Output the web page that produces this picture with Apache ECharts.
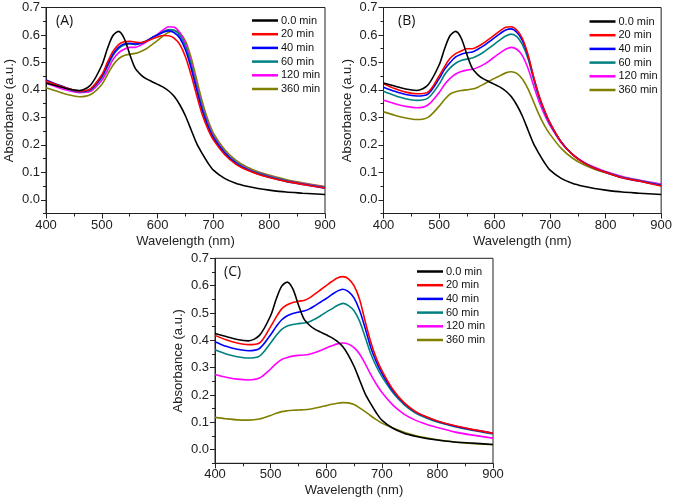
<!DOCTYPE html>
<html>
<head>
<meta charset="utf-8">
<script src="https://cdn.jsdelivr.net/npm/echarts@6/dist/echarts.min.js"></script>
<style>html,body{margin:0;padding:0;background:#fff}#c{width:675px;height:501px}</style>
</head>
<body>
<div id="c"></div>
<script>
// ---------- data ----------
var wavelength = [400,420,440,460,480,500,510,520,530,540,550,560,570,580,590,600,610,620,630,640,650,660,670,680,690,700,720,740,760,780,800,830,860,900];
var seriesNames = ['0.0 min','20 min','40 min','60 min','120 min','360 min'];
var yTickLabels = [0,0.1,0.2,0.3,0.4,0.5,0.6,0.7];
var xTickLabels = [400,500,600,700,800,900];
var panelLabels = ['(A)','(B)','(C)'];

var black0 = [0.425,0.414,0.403,0.398,0.418,0.49,0.55,0.598,0.613,0.588,0.53,0.478,0.455,0.44,0.43,0.42,0.41,0.396,0.376,0.345,0.305,0.255,0.205,0.168,0.135,0.108,0.078,0.06,0.049,0.041,0.035,0.028,0.024,0.019];

var a20  = [0.432,0.418,0.405,0.396,0.405,0.455,0.5,0.54,0.565,0.575,0.577,0.574,0.572,0.577,0.585,0.593,0.598,0.597,0.588,0.565,0.52,0.455,0.38,0.31,0.258,0.218,0.165,0.13,0.108,0.093,0.081,0.067,0.056,0.043];
var a40  = [0.436,0.42,0.405,0.395,0.403,0.45,0.49,0.53,0.555,0.567,0.57,0.567,0.57,0.578,0.59,0.6,0.61,0.615,0.608,0.588,0.545,0.48,0.4,0.325,0.268,0.225,0.17,0.133,0.11,0.094,0.082,0.067,0.056,0.042];
var a60  = [0.432,0.418,0.403,0.393,0.4,0.445,0.485,0.525,0.55,0.563,0.567,0.565,0.57,0.578,0.59,0.6,0.612,0.62,0.617,0.598,0.558,0.492,0.41,0.335,0.275,0.23,0.174,0.137,0.113,0.097,0.085,0.07,0.058,0.045];
var a120 = [0.425,0.41,0.398,0.39,0.395,0.435,0.47,0.51,0.535,0.548,0.555,0.555,0.563,0.575,0.59,0.603,0.618,0.63,0.628,0.608,0.568,0.5,0.418,0.34,0.28,0.233,0.176,0.138,0.114,0.098,0.086,0.07,0.059,0.046];
var a360 = [0.408,0.395,0.382,0.375,0.383,0.42,0.455,0.49,0.513,0.525,0.53,0.533,0.54,0.55,0.565,0.58,0.597,0.61,0.616,0.607,0.578,0.518,0.438,0.358,0.292,0.243,0.183,0.144,0.119,0.102,0.09,0.074,0.062,0.048];

var b20  = [0.422,0.405,0.392,0.386,0.392,0.45,0.485,0.515,0.532,0.542,0.55,0.55,0.558,0.57,0.585,0.6,0.615,0.628,0.63,0.618,0.588,0.53,0.45,0.38,0.325,0.28,0.21,0.165,0.135,0.115,0.1,0.08,0.068,0.05];
var b40  = [0.41,0.395,0.383,0.378,0.385,0.44,0.475,0.5,0.52,0.53,0.535,0.538,0.548,0.56,0.575,0.59,0.605,0.618,0.622,0.61,0.58,0.525,0.448,0.378,0.323,0.278,0.21,0.165,0.135,0.115,0.1,0.08,0.068,0.052];
var b60  = [0.395,0.38,0.368,0.362,0.37,0.42,0.455,0.48,0.497,0.507,0.512,0.516,0.525,0.537,0.552,0.567,0.582,0.596,0.603,0.594,0.566,0.515,0.442,0.373,0.32,0.276,0.21,0.165,0.136,0.116,0.101,0.082,0.07,0.054];
var b120 = [0.362,0.35,0.34,0.335,0.345,0.39,0.42,0.442,0.458,0.467,0.472,0.475,0.482,0.492,0.505,0.52,0.535,0.548,0.555,0.548,0.525,0.48,0.418,0.358,0.31,0.27,0.208,0.166,0.138,0.118,0.103,0.085,0.072,0.057];
var b360 = [0.32,0.308,0.298,0.292,0.3,0.34,0.365,0.385,0.393,0.398,0.4,0.403,0.41,0.42,0.432,0.442,0.452,0.462,0.466,0.46,0.44,0.405,0.358,0.31,0.27,0.238,0.187,0.152,0.128,0.111,0.098,0.082,0.07,0.055];

var c20  = [0.418,0.402,0.39,0.384,0.39,0.45,0.485,0.515,0.53,0.538,0.543,0.546,0.555,0.57,0.585,0.6,0.615,0.628,0.633,0.625,0.6,0.55,0.47,0.395,0.335,0.29,0.22,0.172,0.14,0.12,0.105,0.088,0.075,0.06];
var c40  = [0.395,0.378,0.367,0.362,0.37,0.42,0.45,0.475,0.49,0.498,0.503,0.507,0.515,0.527,0.54,0.553,0.567,0.58,0.587,0.578,0.555,0.51,0.445,0.375,0.322,0.28,0.215,0.17,0.139,0.119,0.104,0.087,0.074,0.06];
var c60  = [0.365,0.35,0.34,0.335,0.342,0.39,0.418,0.44,0.452,0.458,0.461,0.463,0.468,0.478,0.49,0.503,0.515,0.527,0.535,0.527,0.508,0.47,0.412,0.352,0.305,0.268,0.208,0.165,0.135,0.116,0.101,0.085,0.072,0.057];
var c120 = [0.275,0.265,0.258,0.255,0.262,0.295,0.315,0.33,0.337,0.342,0.345,0.346,0.349,0.355,0.363,0.372,0.38,0.387,0.39,0.386,0.373,0.35,0.315,0.275,0.24,0.21,0.163,0.13,0.108,0.093,0.081,0.065,0.054,0.042];
var c360 = [0.118,0.113,0.109,0.108,0.112,0.125,0.133,0.139,0.142,0.144,0.145,0.146,0.148,0.152,0.156,0.161,0.166,0.17,0.172,0.171,0.165,0.153,0.139,0.124,0.11,0.097,0.079,0.064,0.052,0.043,0.036,0.028,0.023,0.018];

var panelData = [
  [black0, a20, a40, a60, a120, a360],
  [black0, b20, b40, b60, b120, b360],
  [black0, c20, c40, c60, c120, c360]
];
var colors = ['#000000','#ff0000','#0000ff','#008080','#ff00ff','#808000'];

// ---------- layout ----------
var grids = [
  {left:46, top:7.5, width:279, height:206},
  {left:383.5, top:7.5, width:279, height:206},
  {left:215, top:258.3, width:278, height:205}
];
var legendPos = [{left:252, top:14.5},{left:589.5, top:15.5},{left:417, top:265.5}];
var labelPos = [[56,23],[398,23],[224,274]];

var FONT = 'Liberation Sans, Arial, sans-serif';
var axisColor = '#222';
var option = {
  animation:false,
  backgroundColor:'#fff',
  grid:[], xAxis:[], yAxis:[], series:[], legend:[], graphic:[]
};

grids.forEach(function(g, p){
  option.grid.push({left:g.left, top:g.top, width:g.width, height:g.height, show:true, borderColor:axisColor, borderWidth:1, backgroundColor:'transparent', containLabel:false});
  option.xAxis.push({
    type:'value', gridIndex:p, min:400, max:900, interval:100,
    name:'Wavelength (nm)', nameLocation:'middle', nameGap:21,
    nameTextStyle:{fontFamily:FONT, fontSize:13, color:'#222', verticalAlign:'top'},
    axisLine:{show:true, onZero:false, lineStyle:{color:axisColor, width:1}},
    axisTick:{show:true, inside:false, length:5, lineStyle:{color:axisColor}},
    minorTick:{show:true, splitNumber:2, length:3, lineStyle:{color:axisColor}},
    splitLine:{show:false}, minorSplitLine:{show:false},
    axisLabel:{fontFamily:FONT, fontSize:13, color:'#222', margin:5}
  });
  // main y axis: labels + major ticks
  option.yAxis.push({
    type:'value', gridIndex:p, min:-0.05, max:0.7, position:'left',
    name:'Absorbance (a.u.)', nameLocation:'middle', nameGap:30,
    nameTextStyle:{fontFamily:FONT, fontSize:13, color:'#222'},
    axisLine:{show:true, onZero:false, lineStyle:{color:axisColor, width:1}},
    axisTick:{show:true, inside:false, length:5, customValues:yTickLabels, lineStyle:{color:axisColor}},
    axisLabel:{fontFamily:FONT, fontSize:13, color:'#222', margin:6, customValues:yTickLabels,
      formatter:function(v){return v.toFixed(1);}},
    splitLine:{show:false}
  });
  // minor y ticks
  option.yAxis.push({
    type:'value', gridIndex:p, min:-0.05, max:0.7, interval:0.05, position:'left', offset:0,
    axisLine:{show:false, onZero:false},
    axisTick:{show:true, inside:false, length:3, lineStyle:{color:axisColor}},
    axisLabel:{show:false}, splitLine:{show:false}
  });
  panelData[p].forEach(function(arr, i){
    option.series.push({
      type:'line', name:seriesNames[i], xAxisIndex:p, yAxisIndex:2*p,
      data: wavelength.map(function(w, k){return [w, arr[k]];}),
      showSymbol:false, symbol:'none', smooth:0.3,
      lineStyle:{color:colors[i], width:1.6}, itemStyle:{color:colors[i]},
      z: 10 - i
    });
  });
  option.legend.push({
    orient:'vertical', left:legendPos[p].left, top:legendPos[p].top,
    data: seriesNames.map(function(n){return {name:n, icon:'rect'};}),
    itemWidth:26, itemHeight:2.5, itemGap:1.7, padding:0,
    textStyle:{fontFamily:FONT, fontSize:11, color:'#111', lineHeight:12, padding:[0,0,0,-2]},
    selectedMode:false
  });
  option.graphic.push({
    type:'text', left:labelPos[p][0], top:labelPos[p][1]-9,
    style:{text:panelLabels[p], font:'14px "Open Sans", sans-serif', fill:'#111'}
  });
});

var chart = echarts.init(document.getElementById('c'), null, {renderer:'canvas'});
chart.setOption(option);
</script>
</body>
</html>
